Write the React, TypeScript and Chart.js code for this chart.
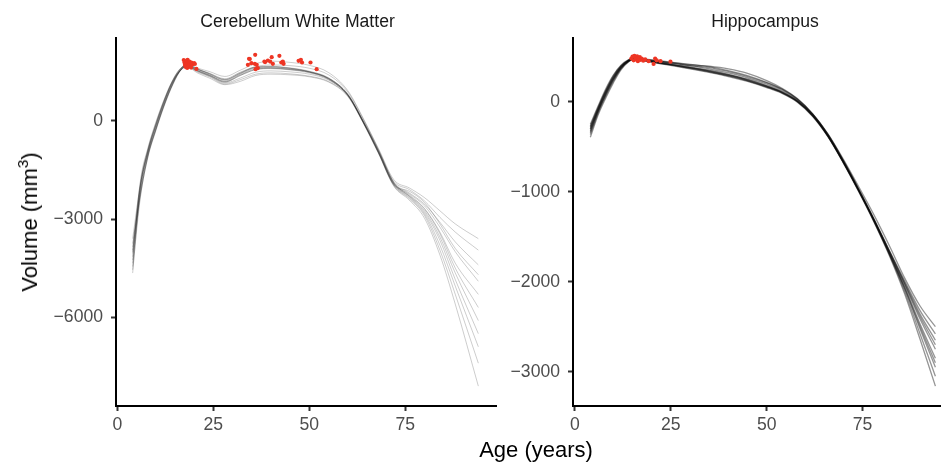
import React, { useEffect, useRef } from "react";
import { Chart, registerables } from "chart.js";

Chart.register(...registerables);

const FONT = "'Liberation Sans', Arial, Helvetica, sans-serif";

// ---------------- Cerebellum White Matter ----------------
const CWM_AGES = [4, 6, 8, 10, 12, 14, 16, 18, 21, 24, 28, 32, 36, 40, 45, 50, 55, 60, 64, 68, 72, 76, 80, 84, 88, 94];
const CWM_01 = [-3600, -1950, -880, -120, 560, 1120, 1520, 1720, 1600, 1500, 1350, 1540, 1740, 1820, 1780, 1690, 1470, 920, 80, -850, -1800, -2050, -2350, -2750, -3150, -3600];
const CWM_02 = [-3750, -2250, -1060, -280, 420, 1010, 1480, 1690, 1560, 1450, 1280, 1480, 1650, 1700, 1680, 1600, 1400, 880, 60, -880, -1850, -2100, -2450, -2950, -3400, -3950];
const CWM_03 = [-3850, -1900, -850, -90, 570, 1130, 1530, 1680, 1520, 1380, 1180, 1380, 1560, 1600, 1560, 1480, 1290, 820, 10, -900, -1880, -2200, -2550, -3100, -3700, -4400];
const CWM_04 = [-3950, -2150, -1000, -250, 440, 1030, 1470, 1660, 1500, 1360, 1150, 1300, 1480, 1520, 1490, 1420, 1240, 780, -30, -940, -1920, -2230, -2600, -3250, -4000, -4900];
const CWM_05 = [-4050, -2050, -940, -170, 500, 1080, 1500, 1720, 1580, 1440, 1260, 1460, 1640, 1660, 1610, 1510, 1300, 790, -10, -930, -1900, -2260, -2680, -3400, -4350, -5300];
const CWM_06 = [-4150, -2300, -1080, -300, 400, 990, 1450, 1650, 1480, 1340, 1120, 1250, 1420, 1460, 1430, 1360, 1200, 760, -40, -960, -1930, -2290, -2700, -3450, -4500, -5700];
const CWM_07 = [-4250, -1850, -820, -60, 590, 1140, 1540, 1700, 1560, 1420, 1240, 1440, 1620, 1640, 1600, 1500, 1310, 810, 0, -910, -1890, -2300, -2750, -3550, -4650, -6100];
const CWM_08 = [-4350, -2200, -1030, -260, 430, 1020, 1470, 1680, 1540, 1400, 1200, 1400, 1580, 1610, 1570, 1480, 1280, 790, -20, -950, -1940, -2320, -2800, -3650, -4850, -6500];
const CWM_09 = [-4450, -2000, -900, -140, 530, 1100, 1500, 1670, 1520, 1390, 1210, 1420, 1600, 1620, 1580, 1490, 1290, 800, -30, -970, -1960, -2350, -2850, -3800, -5050, -6900];
const CWM_10 = [-4550, -2350, -1100, -320, 380, 980, 1450, 1700, 1570, 1430, 1250, 1450, 1630, 1650, 1600, 1490, 1270, 770, -60, -990, -1980, -2380, -2900, -3950, -5300, -7400];
const CWM_11 = [-4650, -2100, -970, -200, 480, 1060, 1480, 1660, 1510, 1370, 1180, 1380, 1560, 1590, 1550, 1460, 1260, 780, -50, -1000, -2000, -2420, -2980, -4100, -5600, -8100];
const CWM_12 = [-4000, -1980, -920, -160, 520, 1090, 1480, 1640, 1450, 1300, 1100, 1200, 1380, 1420, 1400, 1340, 1180, 740, -60, -980, -1950, -2150, -2500, -3150, -3900, -4700];
const CWM_CURVES = [CWM_01, CWM_02, CWM_03, CWM_04, CWM_05, CWM_06, CWM_07, CWM_08, CWM_09, CWM_10, CWM_11, CWM_12];

const CWM_PT_AGE = [17.3, 17.5, 17.6, 17.8, 17.9, 18.0, 18.1, 18.2, 18.3, 18.4, 18.5, 18.6, 18.8, 18.9, 19.0, 19.2, 19.3, 19.6, 20.0, 20.2, 20.6,
  34.0, 34.3, 34.5, 34.9, 35.8, 35.9, 36.0, 36.3, 36.6, 38.3, 38.5, 39.2, 39.8, 40.2, 40.5, 42.2, 42.7, 43.1, 43.3, 47.2, 47.8, 48.1, 50.3, 51.9];
const CWM_PT_VOL = [1850, 1780, 1700, 1640, 1820, 1750, 1680, 1610, 1860, 1790, 1720, 1650, 1800, 1740, 1680, 1620, 1770, 1720, 1760, 1730, 1580,
  1705, 1890, 1880, 1757, 1736, 2010, 1574, 1705, 1605, 1806, 1790, 1837, 1806, 1940, 1736, 1980, 1776, 1806, 1736, 1828, 1858, 1776, 1776, 1574];

// ---------------- Hippocampus ----------------
const HIP_AGES = [4, 6, 8, 10, 12, 14, 15.5, 18, 22, 26, 30, 35, 40, 45, 50, 54, 58, 62, 66, 70, 74, 78, 82, 86, 90, 94];
const HIP_01 = [-250, -50, 140, 295, 405, 467, 486, 475, 455, 435, 415, 390, 345, 290, 215, 140, 30, -135, -360, -640, -945, -1260, -1600, -1960, -2270, -2500];
const HIP_02 = [-280, -75, 115, 275, 393, 461, 482, 468, 444, 423, 400, 365, 320, 265, 195, 125, 20, -142, -370, -660, -975, -1305, -1660, -2010, -2360, -2650];
const HIP_03 = [-300, -90, 100, 262, 385, 457, 479, 464, 438, 413, 388, 352, 305, 250, 180, 112, 11, -150, -378, -668, -983, -1315, -1670, -2035, -2415, -2750];
const HIP_04 = [-320, -100, 90, 255, 380, 455, 478, 462, 433, 406, 378, 340, 295, 240, 170, 104, 5, -155, -383, -672, -987, -1322, -1685, -2060, -2470, -2850];
const HIP_05 = [-345, -115, 75, 242, 372, 451, 476, 460, 432, 406, 380, 345, 300, 245, 175, 108, 8, -152, -382, -672, -990, -1327, -1693, -2085, -2525, -2950];
const HIP_06 = [-365, -130, 60, 228, 364, 448, 474, 457, 427, 400, 372, 333, 287, 232, 164, 99, 0, -160, -388, -678, -995, -1332, -1700, -2110, -2580, -3050];
const HIP_07 = [-395, -150, 40, 210, 355, 445, 473, 455, 424, 396, 366, 325, 280, 225, 157, 92, -5, -165, -392, -682, -1000, -1338, -1711, -2138, -2640, -3160];
const HIP_08 = [-300, -80, 110, 272, 392, 462, 483, 471, 450, 432, 412, 395, 365, 315, 235, 150, 35, -135, -365, -655, -970, -1310, -1665, -2023, -2387, -2700];
const HIP_09 = [-330, -110, 80, 245, 375, 453, 477, 460, 430, 403, 375, 335, 290, 235, 165, 100, 2, -156, -385, -675, -989, -1323, -1685, -2073, -2497, -2900];
const HIP_10 = [-270, -65, 125, 288, 400, 464, 484, 470, 447, 425, 402, 380, 335, 280, 210, 138, 28, -138, -364, -654, -972, -1306, -1653, -1993, -2322, -2580];
const HIP_CURVES = [HIP_01, HIP_02, HIP_03, HIP_04, HIP_05, HIP_06, HIP_07, HIP_08, HIP_09, HIP_10];

const HIP_PT_AGE = [14.7, 15.0, 15.3, 15.5, 15.8, 16.0, 16.2, 16.4, 16.6, 16.9, 17.1, 17.4, 17.8, 18.3, 19.2, 20.5, 20.9, 21.3, 22.3, 24.9];
const HIP_PT_VOL = [480, 500, 460, 510, 490, 470, 505, 450, 485, 495, 465, 480, 455, 470, 450, 420, 480, 460, 450, 445];

// ---------------- ticks ----------------
const X_TICKS = [0, 25, 50, 75];
const CWM_Y_TICKS = [0, -3000, -6000];
const HIP_Y_TICKS = [0, -1000, -2000, -3000];

const fmt = (v: number) => (v < 0 ? "\u2212" + Math.abs(v) : String(v));

type PanelProps = {
  ages: number[];
  curves: number[][];
  ptAge: number[];
  ptVol: number[];
  yTicks: number[];
  xMin: number;
  xMax: number;
  yMin: number;
  yMax: number;
  width: number;
  left: number;
  yAxisWidth: number;
  padRight: number;
  lineColor: string;
  lineWidth: number;
};

function Panel(p: PanelProps) {
  const ref = useRef<HTMLCanvasElement | null>(null);
  useEffect(() => {
    if (!ref.current) return;
    const lineSets = p.curves.map((c) => ({
      type: "line" as const,
      data: p.ages.map((a, i) => ({ x: a, y: c[i] })),
      borderColor: p.lineColor,
      borderWidth: p.lineWidth,
      pointRadius: 0,
      fill: false,
      cubicInterpolationMode: "monotone" as const,
      order: 2,
    }));
    const pts = {
      type: "scatter" as const,
      data: p.ptAge.map((a, i) => ({ x: a, y: p.ptVol[i] })),
      backgroundColor: "#EE3524",
      borderColor: "#EE3524",
      borderWidth: 0,
      pointRadius: 2.1,
      order: 1,
    };
    const tickFont = { family: FONT, size: 17.6 };
    const chart = new Chart(ref.current, {
      type: "scatter",
      data: { datasets: [...lineSets, pts] as any },
      options: {
        animation: false,
        responsive: false,
        maintainAspectRatio: false,
        layout: { padding: { top: 38, right: p.padRight, left: 0, bottom: 0 } },
        plugins: { legend: { display: false }, tooltip: { enabled: false }, title: { display: false } },
        scales: {
          x: {
            type: "linear",
            min: p.xMin,
            max: p.xMax,
            afterFit: (s: any) => {
              s.height = 59;
            },
            afterBuildTicks: (s: any) => {
              s.ticks = X_TICKS.map((v) => ({ value: v }));
            },
            border: { display: true, color: "#000000", width: 2 },
            grid: { display: true, drawOnChartArea: false, drawTicks: true, tickLength: 5, tickColor: "#333333", tickWidth: 2 },
            ticks: { font: tickFont, color: "#4D4D4D", padding: 4, maxRotation: 0, autoSkip: false, callback: (v: any) => fmt(Number(v)) },
          },
          y: {
            type: "linear",
            min: p.yMin,
            max: p.yMax,
            afterFit: (s: any) => {
              s.width = p.yAxisWidth;
            },
            afterBuildTicks: (s: any) => {
              s.ticks = p.yTicks.map((v) => ({ value: v }));
            },
            border: { display: true, color: "#000000", width: 2 },
            grid: { display: true, drawOnChartArea: false, drawTicks: true, tickLength: 5, tickColor: "#333333", tickWidth: 2 },
            ticks: { font: tickFont, color: "#4D4D4D", padding: 8, autoSkip: false, callback: (v: any) => fmt(Number(v)) },
          },
        },
      } as any,
    });
    return () => chart.destroy();
  }, []);
  return (
    <canvas
      ref={ref}
      width={p.width}
      height={465}
      style={{ position: "absolute", left: p.left, top: 0, width: p.width, height: 465 }}
    />
  );
}

export default function App() {
  return (
    <div
      style={{
        position: "fixed",
        left: 0,
        top: 0,
        width: 944,
        height: 465,
        background: "#FFFFFF",
        overflow: "hidden",
        fontFamily: FONT,
      }}
    >
      <Panel
        ages={CWM_AGES}
        curves={CWM_CURVES}
        ptAge={CWM_PT_AGE}
        ptVol={CWM_PT_VOL}
        yTicks={CWM_Y_TICKS}
        xMin={-0.34}
        xMax={98.6}
        yMin={-8707}
        yMax={2524}
        width={500}
        left={0}
        yAxisWidth={116}
        padRight={2}
        lineColor="rgba(0,0,0,0.2)"
        lineWidth={1}
      />
      <Panel
        ages={HIP_AGES}
        curves={HIP_CURVES}
        ptAge={HIP_PT_AGE}
        ptVol={HIP_PT_VOL}
        yTicks={HIP_Y_TICKS}
        xMin={-0.52}
        xMax={95.2}
        yMin={-3381}
        yMax={708}
        width={444}
        left={500}
        yAxisWidth={73}
        padRight={0}
        lineColor="rgba(0,0,0,0.42)"
        lineWidth={1.3}
      />
      <div
        style={{
          position: "absolute",
          left: 107,
          width: 381,
          top: 9,
          height: 24,
          lineHeight: "24px",
          textAlign: "center",
          fontSize: 17.6,
          color: "#1A1A1A",
          whiteSpace: "nowrap",
        }}
      >
        Cerebellum White Matter
      </div>
      <div
        style={{
          position: "absolute",
          left: 573,
          width: 384,
          top: 9,
          height: 24,
          lineHeight: "24px",
          textAlign: "center",
          fontSize: 17.6,
          color: "#1A1A1A",
          whiteSpace: "nowrap",
        }}
      >
        Hippocampus
      </div>
      <div
        style={{
          position: "absolute",
          left: 536,
          top: 450,
          transform: "translate(-50%, -50%)",
          fontSize: 22,
          color: "#000000",
          whiteSpace: "nowrap",
          lineHeight: "26px",
        }}
      >
        Age (years)
      </div>
      <div
        style={{
          position: "absolute",
          left: 31,
          top: 222,
          transform: "translate(-50%, -50%) rotate(-90deg)",
          fontSize: 22,
          color: "#000000",
          whiteSpace: "nowrap",
          lineHeight: "26px",
        }}
      >
        Volume (mm<span style={{ fontSize: 15.4, position: "relative", top: "-0.6em" }}>3</span>)
      </div>
    </div>
  );
}
